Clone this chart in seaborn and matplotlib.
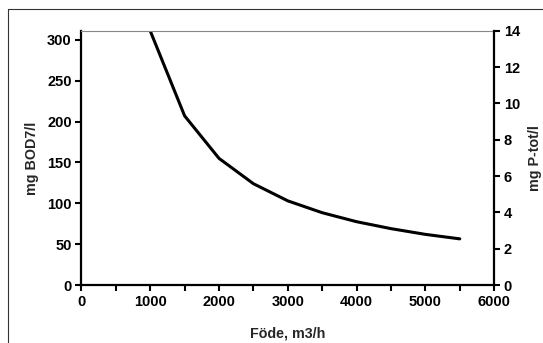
import matplotlib
matplotlib.use("Agg")
import matplotlib.pyplot as plt
from matplotlib.lines import Line2D
from matplotlib.ticker import MultipleLocator
import seaborn as sns
import pandas as pd

# flow vs BOD7 concentration
flow = [1000, 1500, 2000, 2500, 3000, 3500, 4000, 4500, 5000, 5500]
bod7 = [311, 207, 155, 124, 103, 88.5, 77.5, 69, 62, 56.5]

bod_ticks = [0, 50, 100, 150, 200, 250, 300]
ptot_ticks = [0, 2, 4, 6, 8, 10, 12, 14]
flow_ticks = [0, 1000, 2000, 3000, 4000, 5000, 6000]

sns.set_style("white")
plt.rcParams['font.family'] = ['Liberation Sans', 'DejaVu Sans']
plt.rcParams['font.weight'] = 'bold'

df = pd.DataFrame({"flow": flow, "bod7": bod7})

fig = plt.figure(figsize=(5.43, 3.43), dpi=100)
ax = fig.add_axes([0.150, 0.169, 0.760, 0.741])

sns.lineplot(data=df, x="flow", y="bod7", ax=ax, color="black", linewidth=2.2)

ax.set_xlim(0, 6000)
ax.set_ylim(0, 311)
ax.set_xticks(flow_ticks)
ax.xaxis.set_minor_locator(MultipleLocator(500))
ax.set_yticks(bod_ticks)
ax.set_xlabel("Föde, m3/h", fontsize=10.3, fontweight="bold", labelpad=13)
ax.set_ylabel("mg BOD7/l", fontsize=10.3, fontweight="bold", labelpad=6)
ax.tick_params(axis="both", which="both", direction="out", length=4, width=1.5,
               labelsize=10.5, colors="black", pad=3)
ax.tick_params(axis="x", which="both", bottom=True)
ax.tick_params(axis="y", left=True)
for lab in ax.get_xticklabels() + ax.get_yticklabels():
    lab.set_fontweight("bold")

ax.spines["left"].set_linewidth(1.6)
ax.spines["bottom"].set_linewidth(1.6)
ax.spines["left"].set_color("black")
ax.spines["bottom"].set_color("black")
ax.spines["top"].set_linewidth(0.8)
ax.spines["top"].set_color("#888888")
ax.spines["right"].set_visible(False)

ax2 = ax.twinx()
ax2.set_ylim(0, 14)
ax2.set_yticks(ptot_ticks)
ax2.set_ylabel("mg P-tot/l", fontsize=10.3, fontweight="bold", labelpad=6)
ax2.tick_params(axis="y", direction="out", length=4, width=1.5, labelsize=10.5,
                colors="black", right=True, pad=3)
for lab in ax2.get_yticklabels():
    lab.set_fontweight("bold")
for s in ["left", "top", "bottom"]:
    ax2.spines[s].set_visible(False)
ax2.spines["right"].set_linewidth(1.6)
ax2.spines["right"].set_color("black")

# outer frame (left and top edges only visible)
fig.add_artist(Line2D([8 / 543, 8 / 543], [0, 1 - 9 / 343], color="#333333", linewidth=0.8))
fig.add_artist(Line2D([8 / 543, 1], [1 - 9 / 343, 1 - 9 / 343], color="#333333", linewidth=0.8))

fig.savefig("out.png", dpi=100)
